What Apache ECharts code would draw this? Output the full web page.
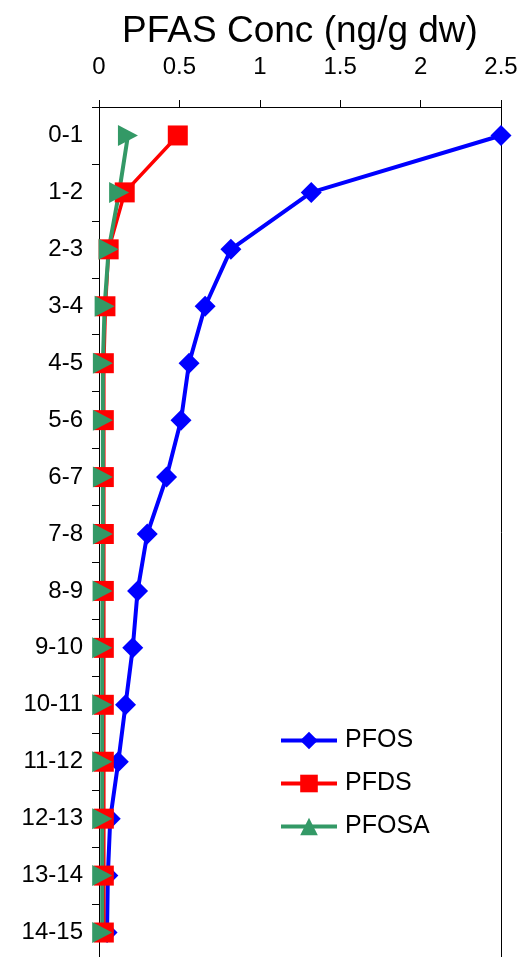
<!DOCTYPE html>
<html>
<head>
<meta charset="utf-8">
<script src="https://cdn.jsdelivr.net/npm/echarts@6/dist/echarts.min.js"></script>
<style>
html,body{margin:0;padding:0;background:#fff;}
#chart{width:523px;height:957px;}
</style>
</head>
<body>
<div id="chart"></div>
<script>
const depths = ['0-1','1-2','2-3','3-4','4-5','5-6','6-7','7-8','8-9','9-10','10-11','11-12','12-13','13-14','14-15'];
const xTicks = [0, 0.5, 1, 1.5, 2, 2.5];
const pfos  = [2.5, 1.32, 0.82, 0.66, 0.56, 0.51, 0.42, 0.30, 0.24, 0.21, 0.165, 0.12, 0.07, 0.055, 0.05];
const pfds  = [0.49, 0.16, 0.06, 0.04, 0.03, 0.03, 0.03, 0.03, 0.03, 0.03, 0.03, 0.03, 0.03, 0.03, 0.03];
const pfosa = [0.18, 0.125, 0.06, 0.035, 0.024, 0.024, 0.024, 0.024, 0.022, 0.02, 0.02, 0.02, 0.02, 0.02, 0.02];

const FONT = 'Liberation Sans, Arial, sans-serif';
const chart = echarts.init(document.getElementById('chart'), null, {renderer: 'canvas'});

function ser(name, data, color, symbol, size, width, rotate) {
  return {
    name: name, type: 'line', data: data,
    symbol: symbol, symbolSize: size, symbolRotate: rotate || 0,
    lineStyle: {color: color, width: width},
    itemStyle: {color: color},
    emphasis: {disabled: true},
    animation: false
  };
}

chart.setOption({
  animation: false,
  backgroundColor: '#fff',
  textStyle: {fontFamily: FONT},
  grid: {left: 99, right: 22, top: 107, height: 854, containLabel: false, outerBoundsMode: 'none'},
  legend: {
    orient: 'vertical', left: 274, top: 723,
    itemWidth: 56, itemHeight: 22, itemGap: 18,
    symbolRotate: 0,
    textStyle: {fontFamily: FONT, fontSize: 25, color: '#000', padding: [0,0,0,3]},
    data: [
      {name: 'PFOS', lineStyle: {width: 4}},
      {name: 'PFDS', lineStyle: {width: 4}},
      {name: 'PFOSA', lineStyle: {width: 4}, symbolRotate: 0}
    ]
  },
  xAxis: {
    type: 'value', position: 'top', min: 0, max: 2.5, interval: 0.5,
    name: 'PFAS Conc (ng/g dw)', nameLocation: 'middle', nameGap: 57,
    nameTextStyle: {fontFamily: FONT, fontSize: 37, color: '#000'},
    axisLine: {show: true, onZero: false, lineStyle: {color: '#000', width: 1}},
    axisTick: {show: true, length: 7, lineStyle: {color: '#000'}},
    axisLabel: {
      fontFamily: FONT, fontSize: 24, color: '#000', margin: 28,
      formatter: function(v){ return xTicks.indexOf(v) >= 0 ? String(v) : ''; }
    },
    splitLine: {show: false}
  },
  yAxis: [{
    type: 'category', data: depths, inverse: true, boundaryGap: true,
    axisLine: {show: true, onZero: false, lineStyle: {color: '#000', width: 1}},
    axisTick: {show: true, length: 7, alignWithLabel: false, lineStyle: {color: '#000'}},
    axisLabel: {fontFamily: FONT, fontSize: 24, color: '#000', margin: 16},
    splitLine: {show: false}
  }, {
    type: 'value', position: 'right',
    axisLine: {show: true, onZero: false, lineStyle: {color: '#000', width: 1}},
    axisTick: {show: false}, axisLabel: {show: false}, splitLine: {show: false}
  }],
  series: [
    ser('PFOS', pfos, '#0000ff', 'diamond', [21, 21], 4),
    ser('PFDS', pfds, '#ff0000', 'rect', [20, 20], 3.5),
    ser('PFOSA', pfosa, '#339966', 'triangle', [21, 20], 4, -90)
  ]
});
</script>
</body>
</html>
